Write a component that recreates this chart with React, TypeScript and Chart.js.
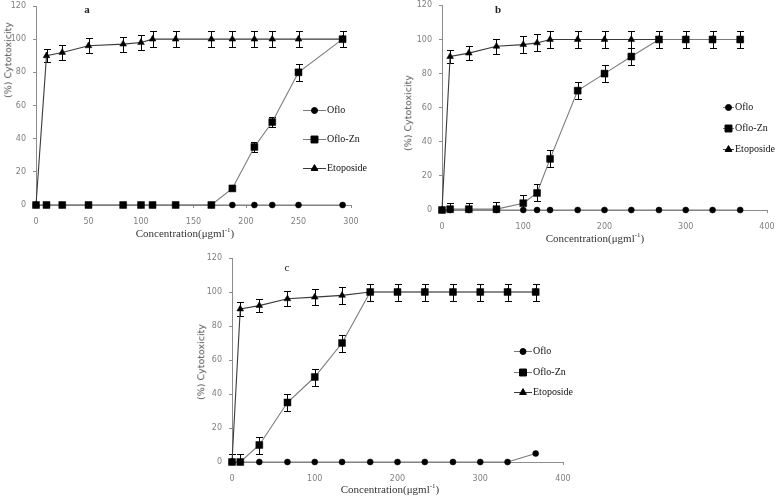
import React, { useEffect, useRef } from 'react';
import { Chart, registerables } from 'chart.js';
import { drawPoint } from 'chart.js/helpers';

Chart.register(...registerables);

// ---------- data ----------
const seriesNames = ['Oflo', 'Oflo-Zn', 'Etoposide'];

// Panel a
const concA = [0, 10, 25, 50, 83, 100, 111, 133, 167, 187, 208, 225, 250, 292];
const ofloA = [0, 0, 0, 0, 0, 0, 0, 0, 0, 0, 0, 0, 0, 0];
const ofloZnA = [0, 0, 0, 0, 0, 0, 0, 0, 0, 10, 35, 50, 80, 100];
const ofloZnErrA = [0, 0, 0, 0, 0, 0, 0, 0, 0, 0, 3, 3, 5, 5];
const etoA = [0, 90, 92, 96, 97, 98, 100, 100, 100, 100, 100, 100, 100, 100];
const etoErrA = [0, 4, 4.5, 4.5, 4.5, 4.5, 5, 5, 5, 5, 5, 5, 5, 5];

// Panel b
const concB = [0, 10, 33, 67, 100, 117, 133, 167, 200, 233, 267, 300, 333, 367];
const ofloB = [0, 0, 0, 0, 0, 0, 0, 0, 0, 0, 0, 0, 0, 0];
const ofloZnB = [0, 0.5, 0.5, 0.5, 4, 10, 30, 70, 80, 90, 100, 100, 100, 100];
const ofloZnErrB = [0, 3.5, 3.5, 4, 5, 5, 5, 5, 5, 5, 5, 5, 5, 5];
const etoB = [0, 90, 92, 96, 97, 98, 100, 100, 100, 100, 100, 100, 100, 100];
const etoErrB = [0, 4, 4, 4.5, 5, 5, 5, 5, 5, 5, 5, 5, 5, 5];

// Panel c
const concC = [0, 10, 33, 67, 100, 133, 167, 200, 233, 267, 300, 333, 367];
const ofloC = [0, 0, 0, 0, 0, 0, 0, 0, 0, 0, 0, 0, 5];
const ofloZnC = [0, 0, 10, 35, 50, 70, 100, 100, 100, 100, 100, 100, 100];
const ofloZnErrC = [5, 5, 5, 5, 5, 5, 5, 5, 5, 5, 5, 5, 5];
const etoC = [0, 90, 92, 96, 97, 98, 100, 100, 100, 100, 100, 100, 100];
const etoErrC = [0, 4, 4, 4.5, 4.5, 5, 5, 5, 5, 5, 5, 5, 5];

const yMin = 0;
const yMax = 120;
const yStep = 20;

// ---------- plugins ----------
const errorBarPlugin = {
  id: 'errorBars',
  beforeDatasetsDraw(chart: any) {
    const ctx = chart.ctx;
    const xs = chart.scales.x;
    const ys = chart.scales.y;
    ctx.save();
    ctx.strokeStyle = '#000';
    ctx.lineWidth = 1;
    chart.data.datasets.forEach((ds: any) => {
      if (!ds.errors) return;
      ds.data.forEach((pt: any, j: number) => {
        const e = ds.errors[j];
        if (!e) return;
        const x = Math.round(xs.getPixelForValue(pt.x)) + 0.5;
        const yt = Math.round(ys.getPixelForValue(Math.min(pt.y + e, ys.max))) + 0.5;
        const yb = Math.round(ys.getPixelForValue(Math.max(pt.y - e, ys.min))) + 0.5;
        const cap = 3.5;
        ctx.beginPath();
        ctx.moveTo(x, yt);
        ctx.lineTo(x, yb);
        ctx.moveTo(x - cap, yt);
        ctx.lineTo(x + cap, yt);
        if (pt.y - e >= ys.min) {
          ctx.moveTo(x - cap, yb);
          ctx.lineTo(x + cap, yb);
        }
        ctx.stroke();
      });
    });
    ctx.restore();
  },
};

const insideLegendPlugin = {
  id: 'insideLegend',
  afterDraw(chart: any, _args: any, opts: any) {
    if (!opts || !opts.ys) return;
    const ctx = chart.ctx;
    ctx.save();
    chart.data.datasets.forEach((ds: any, i: number) => {
      const y = opts.ys[i];
      const x0 = opts.x;
      const x1 = opts.x + opts.len;
      ctx.strokeStyle = ds.borderColor;
      ctx.lineWidth = 1;
      ctx.beginPath();
      ctx.moveTo(x0, y + 0.5);
      ctx.lineTo(x1, y + 0.5);
      ctx.stroke();
      ctx.fillStyle = '#000';
      ctx.strokeStyle = '#000';
      drawPoint(ctx, { pointStyle: ds.pointStyle, radius: ds.pointRadius, rotation: 0, borderWidth: 0.5 }, (x0 + x1) / 2, y + 0.5);
      ctx.fillStyle = '#111';
      ctx.font = '10px "Liberation Serif", "Times New Roman", serif';
      ctx.textBaseline = 'middle';
      ctx.textAlign = 'left';
      ctx.fillText(ds.label, x1 + 1, y + 0.5);
    });
    ctx.restore();
  },
};

// ---------- panel specs ----------
type Panel = {
  conc: number[];
  oflo: number[];
  ofloZn: number[];
  ofloZnErr: number[];
  eto: number[];
  etoErr: number[];
  xMax: number;
  xStep: number;
  area: { left: number; right: number; top: number; bottom: number };
  legend: { x: number; len: number; ys: number[] };
};

const panels: Panel[] = [
  {
    conc: concA, oflo: ofloA, ofloZn: ofloZnA, ofloZnErr: ofloZnErrA, eto: etoA, etoErr: etoErrA,
    xMax: 300, xStep: 50,
    area: { left: 36, right: 351, top: 6, bottom: 205 },
    legend: { x: 303, len: 23, ys: [110, 139, 168] },
  },
  {
    conc: concB, oflo: ofloB, ofloZn: ofloZnB, ofloZnErr: ofloZnErrB, eto: etoB, etoErr: etoErrB,
    xMax: 400, xStep: 100,
    area: { left: 442, right: 767, top: 4, bottom: 210 },
    legend: { x: 723, len: 11, ys: [107, 128, 149] },
  },
  {
    conc: concC, oflo: ofloC, ofloZn: ofloZnC, ofloZnErr: ofloZnErrC, eto: etoC, etoErr: etoErrC,
    xMax: 400, xStep: 100,
    area: { left: 232, right: 563, top: 258, bottom: 462 },
    legend: { x: 514, len: 18, ys: [351, 372, 392] },
  },
];

const W = 780;
const H = 496;
const Y_AXIS_W = 30;
const X_AXIS_H = 30;
const axisColor = '#8c8c8c';
const tickFont = { family: '"DejaVu Sans", Verdana, sans-serif', size: 8 };

function buildChart(canvas: HTMLCanvasElement, p: Panel) {
  const pts = (ys: number[]) => p.conc.map((x, i) => ({ x, y: ys[i] }));
  return new Chart(canvas, {
    type: 'line',
    data: {
      datasets: [
        {
          label: seriesNames[0], data: pts(p.oflo), order: 2, clip: false,
          borderColor: '#7a7a7a', borderWidth: 1.1,
          pointStyle: 'circle', pointRadius: 3,
          pointBackgroundColor: '#000', pointBorderColor: '#000', pointBorderWidth: 0.5,
        } as any,
        {
          label: seriesNames[1], data: pts(p.ofloZn), order: 0, clip: false, errors: p.ofloZnErr,
          borderColor: '#7a7a7a', borderWidth: 1.1,
          pointStyle: 'rect', pointRadius: 4.9,
          pointBackgroundColor: '#000', pointBorderColor: '#000', pointBorderWidth: 0.5,
        } as any,
        {
          label: seriesNames[2], data: pts(p.eto), order: 1, clip: false, errors: p.etoErr,
          borderColor: '#3a3a3a', borderWidth: 1.1,
          pointStyle: 'triangle', pointRadius: 3.9,
          pointBackgroundColor: '#000', pointBorderColor: '#000', pointBorderWidth: 0.5,
        } as any,
      ],
    },
    options: {
      responsive: false,
      animation: false,
      devicePixelRatio: 1,
      events: [],
      layout: {
        padding: {
          left: p.area.left - Y_AXIS_W,
          top: p.area.top,
          right: W - p.area.right,
          bottom: H - p.area.bottom - X_AXIS_H,
        },
      },
      elements: { line: { tension: 0 } },
      scales: {
        x: {
          type: 'linear',
          min: 0,
          max: p.xMax,
          ticks: { stepSize: p.xStep, font: tickFont, color: '#7f7f7f', padding: 9, maxRotation: 0, autoSkip: false },
          grid: { drawOnChartArea: false, drawTicks: true, tickLength: 3, color: axisColor },
          border: { display: true, color: axisColor },
          afterFit: (s: any) => { s.height = X_AXIS_H; s.paddingLeft = 0; s.paddingRight = 0; },
        },
        y: {
          type: 'linear',
          min: yMin,
          max: yMax,
          ticks: { stepSize: yStep, font: tickFont, color: '#7f7f7f', padding: 7 },
          grid: { drawOnChartArea: false, drawTicks: true, tickLength: 3, color: axisColor },
          border: { display: true, color: axisColor },
          afterFit: (s: any) => { s.width = Y_AXIS_W; s.paddingTop = 0; s.paddingBottom = 0; },
        },
      },
      plugins: {
        legend: { display: false },
        tooltip: { enabled: false },
        insideLegend: p.legend,
      } as any,
    },
    plugins: [errorBarPlugin, insideLegendPlugin],
  });
}

function PanelCanvas({ p }: { p: Panel }) {
  const ref = useRef<HTMLCanvasElement | null>(null);
  useEffect(() => {
    if (!ref.current) return;
    const chart = buildChart(ref.current, p);
    return () => chart.destroy();
  }, [p]);
  return (
    <canvas
      ref={ref}
      width={W}
      height={H}
      style={{ position: 'absolute', left: 0, top: 0, width: W, height: H }}
    />
  );
}

const serif = '"Liberation Serif", "Times New Roman", serif';
const sans = '"DejaVu Sans", Verdana, sans-serif';

function Label({ x, y, children, style }: { x: number; y: number; children: any; style?: any }) {
  return (
    <div
      style={{
        position: 'absolute', left: x, top: y, transform: 'translate(-50%, -50%)',
        whiteSpace: 'nowrap', lineHeight: 1, ...style,
      }}
    >
      {children}
    </div>
  );
}

function YTitle({ x, y }: { x: number; y: number }) {
  return (
    <Label x={x} y={y} style={{ transform: 'translate(-50%, -50%) rotate(-90deg)', fontFamily: sans, fontSize: 9.5, color: '#555' }}>
      (%) Cytotoxicity
    </Label>
  );
}

function XTitle({ x, y }: { x: number; y: number }) {
  return (
    <Label x={x} y={y} style={{ fontFamily: serif, fontSize: 11, color: '#333' }}>
      Concentration(μgml<sup style={{ fontSize: 7, verticalAlign: 'super', lineHeight: 0 }}>-1</sup>)
    </Label>
  );
}

const letterStyle = { fontFamily: serif, fontSize: 11, fontWeight: 'bold', color: '#222' };

export default function App() {
  return (
    <div style={{ position: 'fixed', left: 0, top: 0, width: W, height: H, background: '#fff', overflow: 'hidden' }}>
      {panels.map((p, i) => (
        <PanelCanvas key={i} p={p} />
      ))}
      <Label x={87} y={9} style={letterStyle}>a</Label>
      <Label x={498} y={9} style={letterStyle}>b</Label>
      <Label x={287} y={267} style={{ ...letterStyle, fontWeight: 'normal' }}>c</Label>
      <YTitle x={8} y={60} />
      <YTitle x={408} y={113} />
      <YTitle x={201} y={362} />
      <XTitle x={185} y={233} />
      <XTitle x={595} y={238} />
      <XTitle x={390} y={489} />
    </div>
  );
}
